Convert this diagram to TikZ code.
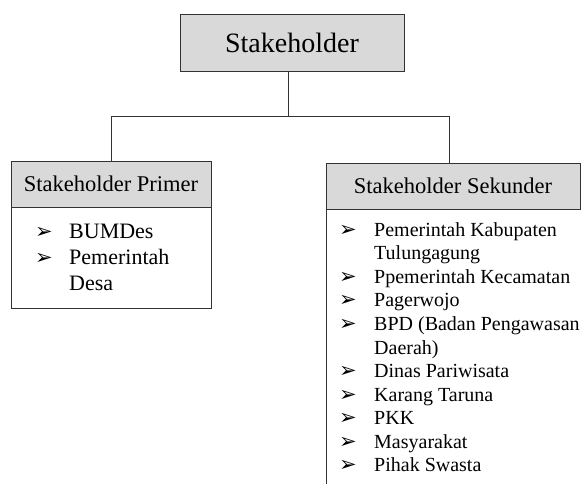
\documentclass[tikz,border=0pt]{standalone}
\usepackage{fontspec}
\setmainfont{Liberation Serif}
\newfontfamily\symfont{DejaVu Sans}
\usetikzlibrary{positioning}

\newcommand{\arw}{{\symfont\fontsize{21}{21}\selectfont ➢}}

\begin{document}
\begin{tikzpicture}[x=1pt,y=-1pt]
	%\draw[help lines] (0,0) grid (581,484);
	
	\tikzstyle{hbox} = [draw=black!80,line width=0.8pt,fill=black!15,inner sep=0pt]
	\tikzstyle{lbox} = [draw=black!80,line width=0.8pt,inner sep=0pt]
	\tikzstyle{ltext} = [anchor=base west,inner sep=0pt]
	\tikzstyle{tline} = [draw=black!80,line width=0.8pt]
	
	\useasboundingbox (0,0) rectangle (581,484);
	\clip (0,0) rectangle (581,484);
	
	\node[hbox,minimum width=224pt,minimum height=57pt,font=\fontsize{28}{30}\selectfont] (stake) at (292,42.5) {Stakeholder};
	\node[hbox,minimum width=200pt,minimum height=46pt,font=\fontsize{22.5}{26}\selectfont] (prim) at (111,184) {Stakeholder Primer};
	\node[hbox,minimum width=254pt,minimum height=46pt,font=\fontsize{22.5}{26}\selectfont] (sek) at (453,186) {Stakeholder Sekunder};
	
	\node[lbox,below=0pt of prim,minimum width=200pt,minimum height=101pt] (primbox) {};
	\node[lbox,anchor=north west,minimum width=280pt,minimum height=320pt] (sekbox) at (sek.south west) {};
	
	\node[ltext,font=\fontsize{22}{26}\selectfont] (primtxt) at (35,238) {\begin{tabular}[t]{@{}p{34pt}@{}l@{}}
		\arw & BUMDes\\
		\arw & Pemerintah\\
		& Desa
	\end{tabular}};
	\node[ltext,font=\fontsize{20}{23.6}\selectfont] (sektxt) at (339,236) {\begin{tabular}[t]{@{}p{35pt}@{}l@{}}
		\arw & Pemerintah Kabupaten\\
		& Tulungagung\\
		\arw & Ppemerintah Kecamatan\\
		\arw & Pagerwojo\\
		\arw & BPD (Badan Pengawasan\\
		& Daerah)\\
		\arw & Dinas Pariwisata\\
		\arw & Karang Taruna\\
		\arw & PKK\\
		\arw & Masyarakat\\
		\arw & Pihak Swasta
	\end{tabular}};
	
	\coordinate (jm) at (288,116);
	\coordinate (jl) at (111,116);
	\coordinate (jr) at (449,116);
	
	\draw[tline] (stake.south -| jm) -- (jm);
	\draw[tline] (jl) -- (jr);
	\draw[tline] (jl) -- (prim.north);
	\draw[tline] (jr) -- (jr |- sek.north);

\end{tikzpicture}
\end{document}
